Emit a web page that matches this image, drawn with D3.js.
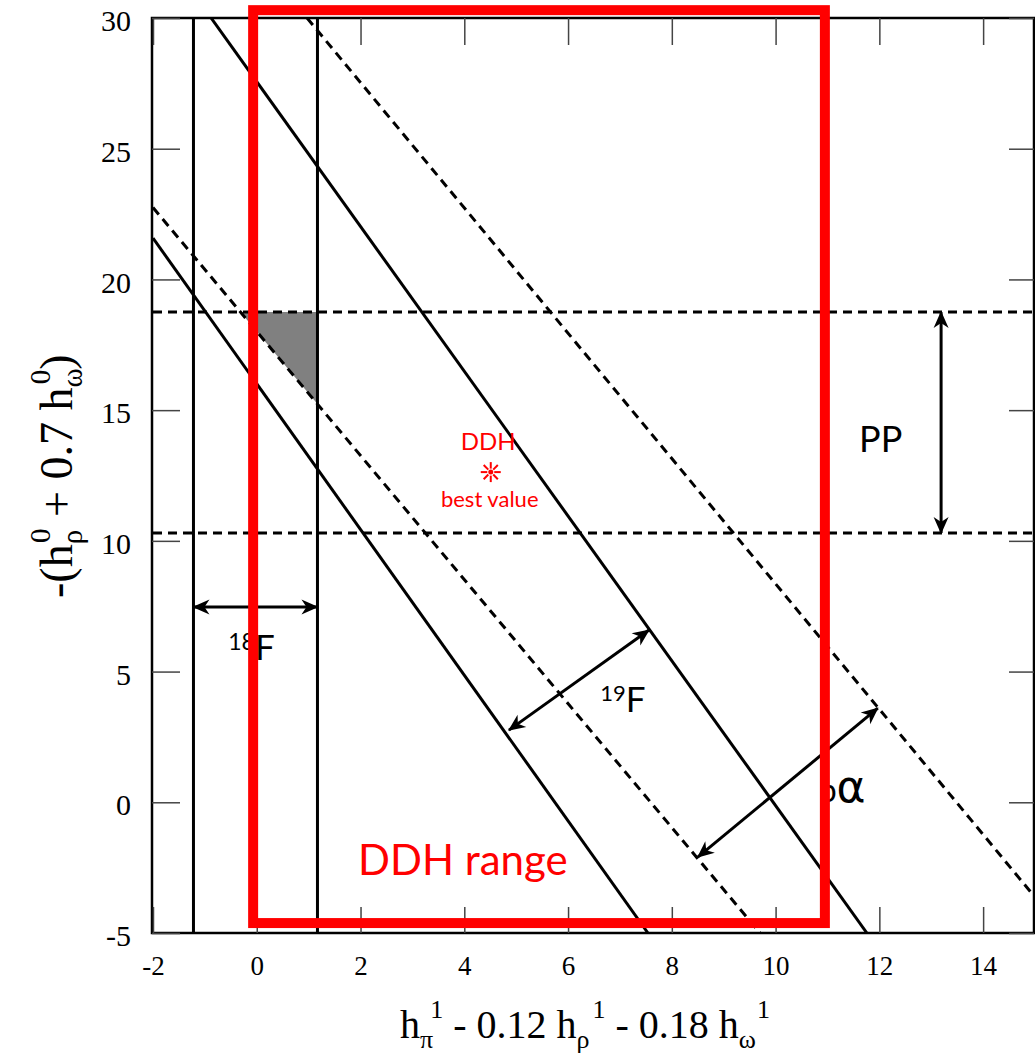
<!DOCTYPE html>
<html>
<head>
<meta charset="utf-8">
<script src="https://cdn.jsdelivr.net/npm/d3@7"></script>
<style>
body { margin: 0; background: #fff; }
svg { display: block; }
.serif { font-family: "Liberation Serif", "Times New Roman", serif; }
.sans { font-family: Lato, "Open Sans", sans-serif; }
</style>
</head>
<body>
<script>
// axis ranges and ticks
var xDomain = [-2, 15];
var yDomain = [-5, 30];
var xTicks = [-2, 0, 2, 4, 6, 8, 10, 12, 14];
var yTicks = [-5, 0, 5, 10, 15, 20, 25, 30];

// constraint bands
var f18Bounds = [-1.22, 1.17];                          // vertical solid lines
var f19Lines = [[[-0.88, 30], [11.76, -5]],             // solid diagonals
                [[-2, 21.58], [7.54, -5]]];
var pAlphaLines = [[[-2, 22.75], [9.7, -5]],            // dashed diagonals
                   [[0.97, 30], [15, -3.63]]];
var ppBounds = [10.3, 18.75];                           // dashed horizontals

// arrows
var arrow18F = [[-1.22, 7.47], [1.17, 7.47]];
var arrow19F = [[4.86, 2.76], [7.56, 6.59]];
var arrowPA = [[8.50, -2.10], [11.97, 3.60]];
var arrowPP = [[13.19, 18.75], [13.19, 10.3]];

// DDH best value and range box
var ddhBest = [4.51, 12.63];
var ddhRangeX = [-0.07, 10.95];
var ddhRangeY = [-4.62, 30.3];

var width = 1035, height = 1053;
var pL = 152, pT = 18, pR = 1034, pB = 933;

var x = d3.scaleLinear().domain(xDomain).range([153, 1035]);
var y = d3.scaleLinear().domain(yDomain).range([pB, pT]);

var svg = d3.select("body").append("svg")
	.attr("width", width).attr("height", height);

var defs = svg.append("defs");
defs.append("clipPath").attr("id", "plot")
	.append("rect").attr("x", pL).attr("y", pT)
	.attr("width", pR - pL).attr("height", pB - pT);

var marker = defs.append("marker")
	.attr("id", "head").attr("viewBox", "-18 -9 20 18")
	.attr("refX", 0).attr("refY", 0)
	.attr("markerWidth", 20).attr("markerHeight", 18)
	.attr("markerUnits", "userSpaceOnUse")
	.attr("orient", "auto-start-reverse");
marker.append("path").attr("d", "M1,0 L-16,-7.5 L-11,0 L-16,7.5 Z").attr("fill", "#000");

var line = d3.line().x(function(d) { return x(d[0]); }).y(function(d) { return y(d[1]); });

var plot = svg.append("g").attr("clip-path", "url(#plot)");

// shaded region: below PP top, left of 18F upper bound, above lower dashed line
var c = pAlphaLines[0];
var m = (c[1][1] - c[0][1]) / (c[1][0] - c[0][0]);
function cy(xv) { return c[0][1] + m * (xv - c[0][0]); }
function cx(yv) { return c[0][0] + (yv - c[0][1]) / m; }
var shade = [[cx(ppBounds[1]), ppBounds[1]], [f18Bounds[1], ppBounds[1]], [f18Bounds[1], cy(f18Bounds[1])]];
plot.append("path").attr("d", line(shade) + "Z").attr("fill", "#808080");

// 18F verticals
plot.selectAll("line.f18").data(f18Bounds).enter().append("line")
	.attr("x1", function(d) { return x(d); }).attr("x2", function(d) { return x(d); })
	.attr("y1", y(30)).attr("y2", y(-5))
	.attr("stroke", "#000").attr("stroke-width", 3);

// 19F solid diagonals
plot.selectAll("path.f19").data(f19Lines).enter().append("path")
	.attr("d", line).attr("fill", "none")
	.attr("stroke", "#000").attr("stroke-width", 3);

// p-alpha dashed diagonals
plot.selectAll("path.pa").data(pAlphaLines).enter().append("path")
	.attr("d", line).attr("fill", "none")
	.attr("stroke", "#000").attr("stroke-width", 3).attr("stroke-dasharray", "9,6");

// PP dashed horizontals
plot.selectAll("line.pp").data(ppBounds).enter().append("line")
	.attr("x1", x(-2)).attr("x2", x(15))
	.attr("y1", function(d) { return y(d); }).attr("y2", function(d) { return y(d); })
	.attr("stroke", "#000").attr("stroke-width", 3).attr("stroke-dasharray", "9,6");

// frame
svg.append("rect").attr("x", pL).attr("y", pT)
	.attr("width", pR - pL).attr("height", pB - pT)
	.attr("fill", "none").attr("stroke", "#000").attr("stroke-width", 2.5);

// axes with inward ticks
function styleAxis(g, size) {
	g.select(".domain").remove();
	g.selectAll(".tick line").attr("stroke", "#444").attr("stroke-width", 1.5);
	g.selectAll(".tick text").attr("fill", "#000")
		.style("font-family", '"Liberation Serif", "Times New Roman", serif')
		.style("font-size", size + "px");
}
var fmt = function(d) { return String(d); };

svg.append("g").attr("transform", "translate(0," + pB + ")")
	.call(d3.axisBottom(x).tickValues(xTicks).tickSize(-26).tickPadding(23).tickFormat(fmt))
	.call(styleAxis, 27);
svg.append("g").attr("transform", "translate(0," + pT + ")")
	.call(d3.axisTop(x).tickValues(xTicks).tickSize(-27).tickFormat(""))
	.call(styleAxis, 27);
svg.append("g").attr("transform", "translate(" + pL + ",0)")
	.call(d3.axisLeft(y).tickValues(yTicks).tickSize(-28).tickPadding(21).tickFormat(fmt))
	.call(styleAxis, 30)
	.selectAll(".tick text").attr("dy", "0.42em");
svg.append("g").attr("transform", "translate(" + pR + ",0)")
	.call(d3.axisRight(y).tickValues(yTicks).tickSize(-25).tickFormat(""))
	.call(styleAxis, 30);

// arrows
[arrow18F, arrow19F, arrowPA, arrowPP].forEach(function(a) {
	svg.append("path").attr("d", line(a)).attr("fill", "none")
		.attr("stroke", "#000").attr("stroke-width", 3)
		.attr("marker-start", "url(#head)").attr("marker-end", "url(#head)");
});

// band labels
svg.append("text").attr("class", "sans").attr("x", x(11.61)).attr("y", y(13.4))
	.style("font-size", "36px").text("PP");

var t18 = svg.append("text").attr("class", "sans").attr("x", x(-0.55)).attr("y", y(5.44))
	.style("font-size", "35px");
t18.append("tspan").style("font-size", "23px").attr("dy", -10).text("18");
t18.append("tspan").attr("dy", 10).text("F");

var t19 = svg.append("text").attr("class", "sans").attr("x", x(6.62)).attr("y", y(3.45))
	.style("font-size", "35px");
t19.append("tspan").style("font-size", "22px").attr("dy", -11).text("19");
t19.append("tspan").attr("dy", 11).text("F");

var tpa = svg.append("text").attr("x", x(10.83)).attr("y", y(0.0));
tpa.append("tspan").attr("class", "sans").style("font-size", "32px").text("p");
tpa.append("tspan").style("font-family", '"DejaVu Sans", sans-serif')
	.style("font-size", "44px").text("α");

// DDH best value
svg.append("text").attr("class", "sans").attr("x", x(4.46)).attr("y", y(13.47))
	.attr("text-anchor", "middle").attr("fill", "#ff0000")
	.style("font-size", "24px").text("DDH");
svg.append("text").attr("class", "sans").attr("x", x(4.49)).attr("y", y(11.29))
	.attr("text-anchor", "middle").attr("fill", "#ff0000")
	.style("font-size", "22px").text("best value");

var star = svg.append("g").attr("transform", "translate(" + x(ddhBest[0]) + "," + y(ddhBest[1]) + ")");
d3.range(8).forEach(function(i) {
	var a = i * Math.PI / 4;
	star.append("line")
		.attr("x1", 3.5 * Math.cos(a)).attr("y1", 3.5 * Math.sin(a))
		.attr("x2", 10 * Math.cos(a)).attr("y2", 10 * Math.sin(a))
		.attr("stroke", "#ff0000").attr("stroke-width", 2);
});
star.append("circle").attr("r", 2.5).attr("fill", "#ff0000");

// axis titles
var xt = svg.append("text").attr("class", "serif").attr("x", 400).attr("y", 1038)
	.style("font-size", "40px");
xt.append("tspan").text("h");
xt.append("tspan").style("font-size", "26px").attr("dy", 10).text("π");
xt.append("tspan").style("font-size", "26px").attr("dy", -30).attr("dx", -3).text("1");
xt.append("tspan").attr("dy", 20).text(" - 0.12 h");
xt.append("tspan").style("font-size", "26px").attr("dy", 10).text("ρ");
xt.append("tspan").style("font-size", "26px").attr("dy", -30).attr("dx", 3).text("1");
xt.append("tspan").attr("dy", 20).text(" - 0.18 h");
xt.append("tspan").style("font-size", "26px").attr("dy", 10).text("ω");
xt.append("tspan").style("font-size", "26px").attr("dy", -30).attr("dx", 1).text("1");

var yt = svg.append("text").attr("class", "serif")
	.attr("transform", "translate(72,598) rotate(-90)")
	.style("font-size", "46px");
yt.append("tspan").text("-(h");
yt.append("tspan").style("font-size", "29px").attr("dy", 10).text("ρ");
yt.append("tspan").style("font-size", "29px").attr("dy", -32).attr("dx", -13).text("0");
yt.append("tspan").attr("dy", 22).text(" + 0.7 h");
yt.append("tspan").style("font-size", "29px").attr("dy", 10).text("ω");
yt.append("tspan").style("font-size", "29px").attr("dy", -32).attr("dx", -16).text("0");
yt.append("tspan").attr("dy", 22).text(")");

// DDH range overlay
svg.append("rect")
	.attr("x", x(ddhRangeX[0])).attr("y", y(ddhRangeY[1]))
	.attr("width", x(ddhRangeX[1]) - x(ddhRangeX[0]))
	.attr("height", y(ddhRangeY[0]) - y(ddhRangeY[1]))
	.attr("fill", "none").attr("stroke", "#ff0000").attr("stroke-width", 10);

svg.append("text").attr("class", "sans").attr("x", 358).attr("y", 875)
	.attr("fill", "#ff0000").style("font-size", "42px").text("DDH range");
</script>
</body>
</html>
